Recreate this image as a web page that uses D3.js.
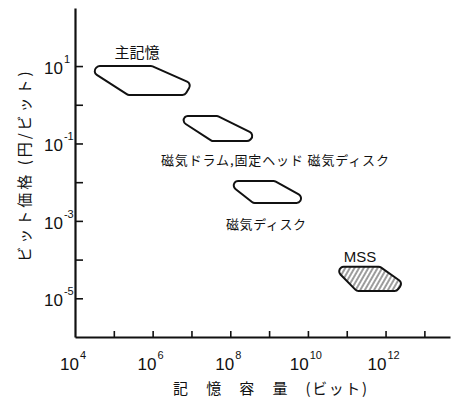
<!DOCTYPE html>
<html>
<head>
<meta charset="utf-8">
<script src="https://cdn.jsdelivr.net/npm/d3@7"></script>
<style>
body { margin: 0; background: #fff; }
text { fill: #111; }
</style>
</head>
<body>
<script>
// memory capacity (bits) vs price per bit (yen/bit)
// each region outline: [capacity, price] going clockwise from top-left
var regionNames = ["主記憶", "磁気ドラム,固定ヘッド 磁気ディスク", "磁気ディスク", "MSS"];
var mainMemory = [[3.9e4, 10], [9.5e5, 10], [1.02e7, 3.5], [6.8e6, 1.8], [2.3e5, 1.8], [2.75e4, 7.1]];
var drumDisk   = [[7.2e6, 0.51], [4.8e7, 0.51], [4.4e8, 0.17], [3.0e8, 0.115], [3.4e7, 0.115], [5.4e6, 0.38]];
var disk       = [[1.4e8, 0.0107], [1.4e9, 0.0107], [7.4e9, 0.0042], [5.9e9, 0.0029], [3.9e8, 0.0029], [1.1e8, 0.0079]];
var mss        = [[7.6e10, 6.5e-5], [7.2e11, 6.5e-5], [2.8e12, 2.5e-5], [1.95e12, 1.55e-5], [1.8e11, 1.55e-5], [5.6e10, 5.1e-5]];
var outlines = [mainMemory, drumDisk, disk, mss];
var hatched = [false, false, false, true];

var xTickValues = [1e5, 1e6, 1e7, 1e8, 1e9, 1e10, 1e11, 1e12, 1e13];
var xLabelExps = [4, 6, 8, 10, 12];
var yTickValues = [1e-5, 1e-4, 1e-3, 1e-2, 1e-1, 1, 10];
var yLabelExps = [1, -1, -3, -5];

var W = 452, H = 401;
var svg = d3.select("body").append("svg")
    .attr("width", W)
    .attr("height", H);

var x = d3.scaleLog().domain([1e4, Math.pow(10, 13.66)]).range([75, 450]);
var y = d3.scaleLog().domain([1e-6, Math.pow(10, 2.5)]).range([337, 8]);

var numFont = "'Liberation Sans', Arial, sans-serif";
var jpFont = "'Noto Sans CJK JP', sans-serif";

// hatch for MSS
var defs = svg.append("defs");
defs.append("pattern")
    .attr("id", "hatch")
    .attr("patternUnits", "userSpaceOnUse")
    .attr("width", 4)
    .attr("height", 10)
    .attr("patternTransform", "rotate(30)")
  .append("line")
    .attr("x1", 1).attr("y1", 0)
    .attr("x2", 1).attr("y2", 10)
    .attr("stroke", "#222")
    .attr("stroke-width", 0.9);

// axes
var xAxis = d3.axisBottom(x).tickValues(xTickValues).tickSize(-6).tickSizeOuter(0).tickFormat("");
var yAxis = d3.axisLeft(y).tickValues(yTickValues).tickSize(-8).tickSizeOuter(0).tickFormat("");

var gx = svg.append("g").attr("transform", "translate(0,337)").call(xAxis);
var gy = svg.append("g").attr("transform", "translate(75,0)").call(yAxis);
[gx, gy].forEach(function(g) {
    g.select(".domain").attr("stroke", "#111").attr("stroke-width", 2.2);
    g.selectAll(".tick line").attr("stroke", "#111").attr("stroke-width", 1.6);
});

// tick labels with superscripts
xLabelExps.forEach(function(e) {
    var t = svg.append("text")
        .attr("x", x(Math.pow(10, e)) - 2)
        .attr("y", 370)
        .attr("text-anchor", "middle")
        .style("font-family", numFont)
        .style("font-size", "17px");
    t.append("tspan").text("10");
    t.append("tspan").attr("dy", -11).attr("dx", 1).style("font-size", "11px").text(e);
});

yLabelExps.forEach(function(e) {
    var t = svg.append("text")
        .attr("x", 44)
        .attr("y", y(Math.pow(10, e)) + 8)
        .style("font-family", numFont)
        .style("font-size", "17px");
    t.append("tspan").text("10");
    t.append("tspan").attr("dy", -11).attr("dx", 1).style("font-size", "11px").text(e);
});

// closed outline with rounded corners
function roundedPath(pts, r) {
    var p = d3.path();
    var n = pts.length;
    p.moveTo((pts[0][0] + pts[1][0]) / 2, (pts[0][1] + pts[1][1]) / 2);
    for (var i = 1; i <= n; i++) {
        var a = pts[i % n], b = pts[(i + 1) % n];
        p.arcTo(a[0], a[1], b[0], b[1], r);
    }
    p.closePath();
    return p.toString();
}

var regions = regionNames.map(function(name, i) {
    return {
        name: name,
        pts: outlines[i].map(function(d) { return [x(d[0]), y(d[1])]; }),
        hatched: hatched[i]
    };
});

svg.selectAll("path.region")
    .data(regions)
    .enter()
    .append("path")
    .attr("class", "region")
    .attr("d", function(d) { return roundedPath(d.pts, 4.5); })
    .attr("fill", function(d) { return d.hatched ? "url(#hatch)" : "none"; })
    .attr("stroke", "#111")
    .attr("stroke-width", 2)
    .attr("stroke-linejoin", "round");

// region labels
var labelPos = [[137, 58, 15, 0], [275, 165, 13, 228], [266, 229, 13, 80], [360, 262, 15, 0]];
regions.forEach(function(d, i) {
    var t = svg.append("text")
        .attr("x", labelPos[i][0])
        .attr("y", labelPos[i][1])
        .attr("text-anchor", "middle")
        .style("font-family", i == 3 ? numFont : jpFont)
        .style("font-size", labelPos[i][2] + "px")
        .text(d.name);
    if (labelPos[i][3]) t.attr("textLength", labelPos[i][3]);
});

// axis titles
svg.append("text")
    .attr("x", 270)
    .attr("y", 394)
    .attr("text-anchor", "middle")
    .attr("textLength", 194)
    .style("font-family", jpFont)
    .style("font-size", "15px")
    .text("記\u2003憶\u2003容\u2003量\u2003(ビット)");

svg.append("text")
    .attr("transform", "translate(30,165) rotate(-90)")
    .attr("text-anchor", "middle")
    .style("font-family", jpFont)
    .style("font-size", "15px")
    .style("letter-spacing", "3px")
    .text("ビット価格 (円/ビット)");
</script>
</body>
</html>
